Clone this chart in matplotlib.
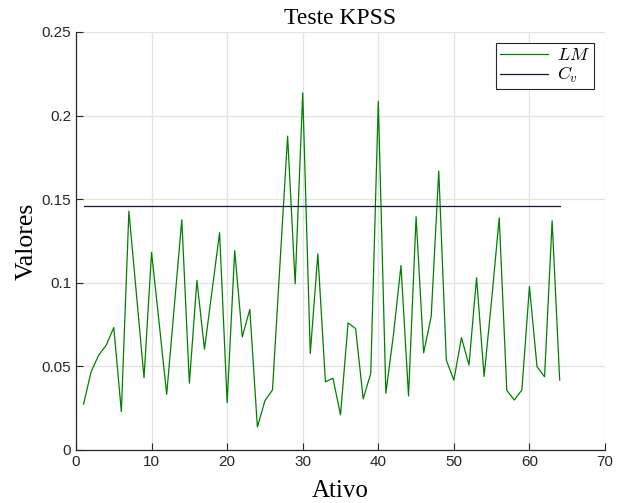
import matplotlib.pyplot as plt
import numpy as np

# KPSS statistic per asset
ativo = np.arange(1, 65)
lm = [0.0274, 0.0468, 0.0567, 0.0627, 0.0732, 0.0230, 0.1428, 0.0930, 0.0432, 0.1182,
      0.0760, 0.0333, 0.0855, 0.1377, 0.0399, 0.1014, 0.0602, 0.0952, 0.1300, 0.0283,
      0.1192, 0.0676, 0.0841, 0.0137, 0.0295, 0.0359, 0.1120, 0.1877, 0.0994, 0.2135,
      0.0577, 0.1173, 0.0408, 0.0429, 0.0210, 0.0760, 0.0726, 0.0305, 0.0458, 0.2085,
      0.0339, 0.0688, 0.1103, 0.0323, 0.1395, 0.0581, 0.0799, 0.1668, 0.0537, 0.0418,
      0.0672, 0.0508, 0.1030, 0.0440, 0.0900, 0.1389, 0.0357, 0.0299, 0.0359, 0.0978,
      0.0498, 0.0438, 0.1371, 0.0418]
cv = 0.1458

xticks = [0, 10, 20, 30, 40, 50, 60, 70]
yticks = [0, 0.05, 0.1, 0.15, 0.2, 0.25]

plt.rcParams['mathtext.fontset'] = 'cm'

fig = plt.figure(figsize=(6.26, 5.03), dpi=100)
ax = fig.add_axes([0.1214, 0.1054, 0.8451, 0.831])

ax.plot(ativo, lm, color='#008000', lw=0.9, label='$LM$')
ax.plot([ativo[0], ativo[-1]], [cv, cv], color='#14143c', lw=0.9, label='$C_v$')

ax.set_xlim(0, 70)
ax.set_ylim(0, 0.25)
ax.set_xticks(xticks)
ax.set_yticks(yticks)
ax.set_yticklabels(['0', '0.05', '0.1', '0.15', '0.2', '0.25'])

ax.grid(True, color='#e3e3e3', lw=0.9)
ax.set_axisbelow(True)
for s in ['top', 'right']:
    ax.spines[s].set_visible(False)
for s in ['left', 'bottom']:
    ax.spines[s].set_color('#262626')
    ax.spines[s].set_linewidth(0.9)
ax.tick_params(direction='in', length=5, width=0.8, color='#262626',
               labelsize=11, labelcolor='#262626')
for lab in ax.get_xticklabels() + ax.get_yticklabels():
    lab.set_family('Liberation Sans')

ax.set_title('Teste KPSS', family='Liberation Serif', size=17, pad=6)
ax.set_xlabel('Ativo', family='Liberation Serif', size=18, labelpad=8)
ax.set_ylabel('Valores', family='Liberation Serif', size=18.5, labelpad=3)

leg = ax.legend(loc='upper right', fontsize=13, frameon=True, fancybox=False,
                edgecolor='#262626', framealpha=1, handlelength=2.7,
                borderaxespad=0.6, borderpad=0.2, labelspacing=0.05,
                handletextpad=0.5)
leg.get_frame().set_linewidth(0.8)

fig.savefig('out.png', dpi=100)
